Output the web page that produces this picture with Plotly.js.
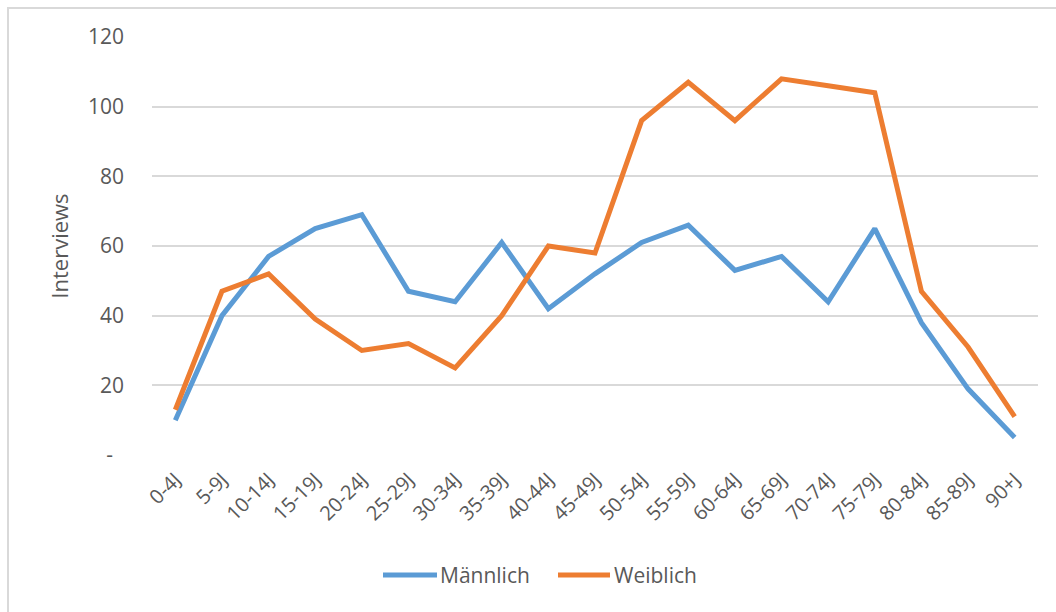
<!DOCTYPE html>
<html>
<head>
<meta charset="utf-8">
<script src="https://cdn.plot.ly/plotly-3.0.1.min.js"></script>
<style>
  html, body { margin: 0; padding: 0; background: #ffffff; }
  #chart { position: absolute; left: 0; top: 0; width: 1056px; height: 612px; }
  #frame { position: absolute; left: 7px; top: 7px; width: 1200px; height: 800px;
           border: 2px solid #D9D9D9; pointer-events: none; box-sizing: border-box; }
</style>
</head>
<body>
<div id="chart"></div>
<div id="frame"></div>
<script>
const categories = ["0-4J","5-9J","10-14J","15-19J","20-24J","25-29J","30-34J","35-39J","40-44J","45-49J",
                    "50-54J","55-59J","60-64J","65-69J","70-74J","75-79J","80-84J","85-89J","90+J"];
const maennlich = [10, 40, 57, 65, 69, 47, 44, 61, 42, 52, 61, 66, 53, 57, 44, 65, 38, 19, 5];
const weiblich  = [13, 47, 52, 39, 30, 32, 25, 40, 60, 58, 96, 107, 96, 108, 106, 104, 47, 31, 11];
const seriesNames = ["Männlich", "Weiblich"];
const seriesColors = ["#5B9BD5", "#ED7D31"];
const yTickVals = [0, 20, 40, 60, 80, 100, 120];
const yTickText = ["-\u00a0\u00a0", "20", "40", "60", "80", "100", "120"];

const FONT = "'Open Sans', 'Noto Sans', sans-serif";
const GREY = "#595959";

const W = 1056, H = 612;
const M = { l: 152, r: 18, t: 37, b: 157 };
const PW = W - M.l - M.r, PH = H - M.t - M.b;
const px2x = p => (p - M.l) / PW;
const px2y = p => (H - M.b - p) / PH;

const traces = [
  { type: "scatter", mode: "lines", name: seriesNames[0], x: categories, y: maennlich,
    line: { color: seriesColors[0], width: 5, shape: "linear" }, showlegend: false },
  { type: "scatter", mode: "lines", name: seriesNames[1], x: categories, y: weiblich,
    line: { color: seriesColors[1], width: 5, shape: "linear" }, showlegend: false }
];

// Excel-style legend: long line sample followed by label
const legendY = px2y(575);
const legendItems = [
  { x0: 383, x1: 437, tx: 439 },
  { x0: 558, x1: 610, tx: 613 }
];
const shapes = legendItems.map((it, i) => ({
  type: "line", xref: "paper", yref: "paper",
  x0: px2x(it.x0), x1: px2x(it.x1), y0: legendY, y1: legendY,
  line: { color: seriesColors[i], width: 5 }
}));
const annotations = legendItems.map((it, i) => ({
  xref: "paper", yref: "paper", x: px2x(it.tx), y: legendY,
  xanchor: "left", yanchor: "middle", showarrow: false, text: seriesNames[i],
  font: { family: FONT, size: 21, color: GREY }, borderpad: 0
}));

const layout = {
  width: W, height: H,
  margin: M,
  paper_bgcolor: "#ffffff", plot_bgcolor: "#ffffff",
  font: { family: FONT, color: GREY, size: 20 },
  showlegend: false,
  shapes: shapes,
  annotations: annotations,
  xaxis: {
    type: "category", range: [-0.5, 18.5], showgrid: false, zeroline: false,
    showline: false, ticks: "", tickangle: -45, ticklabelstandoff: 8,
    tickfont: { family: FONT, size: 20, color: GREY }, fixedrange: true
  },
  yaxis: {
    range: [0, 120], tickvals: yTickVals, ticktext: yTickText, showgrid: true,
    gridcolor: "#D9D9D9", gridwidth: 2, zeroline: false, showline: false, ticks: "",
    ticklabelstandoff: 27, tickfont: { family: FONT, size: 21, color: GREY },
    title: { text: "Interviews", standoff: 13, font: { family: FONT, size: 22, color: GREY } },
    fixedrange: true
  }
};

Plotly.newPlot("chart", traces, layout, { displayModeBar: false, staticPlot: true });
</script>
</body>
</html>
